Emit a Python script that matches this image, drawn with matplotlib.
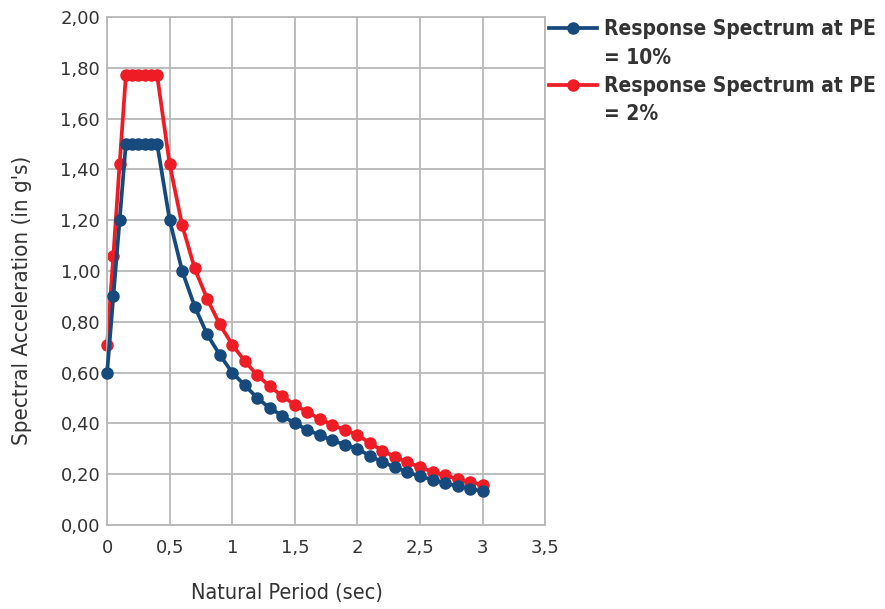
import matplotlib
matplotlib.use("Agg")
from matplotlib import pyplot as plt
from matplotlib.lines import Line2D

## data
period = [0, 0.05, 0.1, 0.15, 0.2, 0.25, 0.3, 0.35, 0.4,
          0.5, 0.6, 0.7, 0.8, 0.9, 1.0, 1.1, 1.2, 1.3, 1.4, 1.5,
          1.6, 1.7, 1.8, 1.9, 2.0, 2.1, 2.2, 2.3, 2.4, 2.5,
          2.6, 2.7, 2.8, 2.9, 3.0]
sa_pe10 = [0.60, 0.90, 1.20, 1.50, 1.50, 1.50, 1.50, 1.50, 1.50,
           1.20, 1.00, 0.86, 0.75, 0.67, 0.60, 0.55, 0.50, 0.46, 0.43, 0.40,
           0.375, 0.353, 0.333, 0.316, 0.30, 0.272, 0.248, 0.227, 0.208, 0.192,
           0.178, 0.165, 0.153, 0.143, 0.133]
sa_pe2 = [0.71, 1.06, 1.42, 1.77, 1.77, 1.77, 1.77, 1.77, 1.77,
          1.42, 1.18, 1.01, 0.89, 0.79, 0.71, 0.645, 0.59, 0.546, 0.507, 0.473,
          0.444, 0.418, 0.394, 0.374, 0.355, 0.322, 0.293, 0.268, 0.247, 0.227,
          0.210, 0.195, 0.181, 0.169, 0.158]
labels = [("Response Spectrum at PE", "= 10%"), ("Response Spectrum at PE", "= 2%")]

x_ticks = [0, 0.5, 1, 1.5, 2, 2.5, 3, 3.5]
x_ticklabels = ["0", "0,5", "1", "1,5", "2", "2,5", "3", "3,5"]
y_ticks = [0.0, 0.2, 0.4, 0.6, 0.8, 1.0, 1.2, 1.4, 1.6, 1.8, 2.0]
y_ticklabels = [("%.2f" % v).replace(".", ",") for v in y_ticks]

plt.rcParams['font.family'] = ['DejaVu Sans']

fig = plt.figure(figsize=(8.85, 6.09), dpi=100)
ax = fig.add_axes([0.121, 0.138, 0.495, 0.834])

blue = "#174a7c"
red = "#ee1d25"
l1, = ax.plot(period, sa_pe10, color=blue, lw=2.7, marker="o", ms=8, zorder=3, clip_on=False)
l2, = ax.plot(period, sa_pe2, color=red, lw=2.7, marker="o", ms=8, zorder=2, clip_on=False)

ax.set_xlim(0, 3.5)
ax.set_ylim(0, 2.0)
ax.set_xticks(x_ticks)
ax.set_xticklabels(x_ticklabels)
ax.set_yticks(y_ticks)
ax.set_yticklabels(y_ticklabels)
ax.tick_params(length=0, labelsize=13, colors="#333333")
ax.tick_params(axis="x", pad=10)
ax.tick_params(axis="y", pad=5)
ax.grid(True, color="#b8b8b8", lw=1.3)
ax.set_axisbelow(True)
for s in ax.spines.values():
    s.set_color("#b8b8b8")
    s.set_linewidth(1.3)

ax.set_xlabel("Natural Period (sec)", fontsize=15.5, color="#333333", fontstretch="condensed")
ax.set_ylabel("Spectral Acceleration (in g's)", fontsize=16, color="#333333", fontstretch="condensed")
ax.xaxis.set_label_coords(0.411, -0.114)
ax.yaxis.set_label_coords(-0.171, 0.443)

## legend: handle sits on the first line of each wrapped label
blank = Line2D([], [], color="none")
handles = [l1, blank, l2, blank]
texts = [labels[0][0], labels[0][1], labels[1][0], labels[1][1]]
fig.legend(handles, texts, loc="upper left", bbox_to_anchor=(0.599, 0.999), frameon=False,
           prop={"size": 15, "weight": "bold", "stretch": "condensed"}, handlelength=2.3,
           handletextpad=0.35, labelspacing=0.40, labelcolor="#333333")

fig.savefig("out.png", dpi=100)
